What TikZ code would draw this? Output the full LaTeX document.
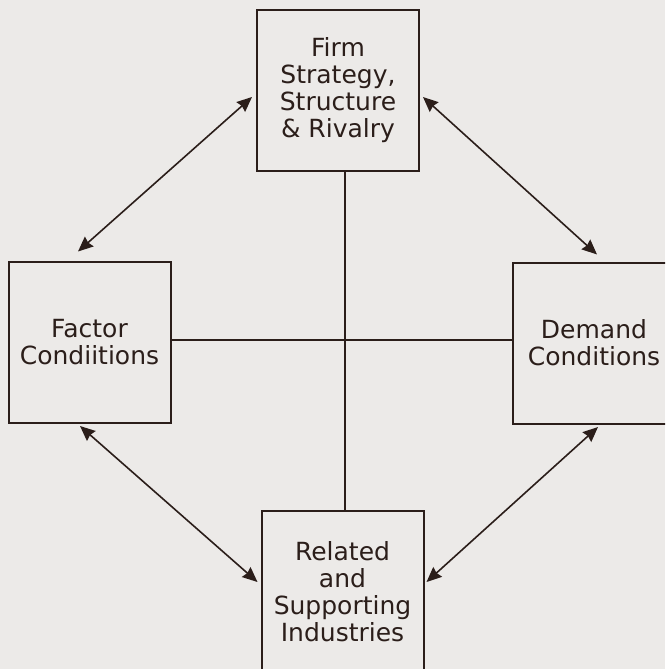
\documentclass[tikz,border=0pt]{standalone}
\usepackage{fontspec}
\setmainfont{DejaVu Sans}
\usepackage{xcolor}
\usepackage{tikz}
\usetikzlibrary{arrows.meta}

\definecolor{ink}{HTML}{2B1E1A}
\definecolor{paper}{HTML}{ECEAE8}

\begin{document}
\begin{tikzpicture}[x=1pt,y=-1pt,>={Stealth[length=15pt,width=13pt,inset=1.5pt]},line width=1.6pt,
    box/.style={draw=ink,text=ink,line width=2pt,minimum width=162pt,minimum height=161pt,inner sep=0pt,align=center,font=\fontsize{25}{27}\selectfont},
    link/.style={<->,draw=ink}]
            % \tikzset{every path/.style={draw=ink}}
            \fill[paper] (0,0) rectangle (665,669);
            \clip (0,0) rectangle (665,669);

            \node[box] (strat)   at (338,90.5)   {Firm\\Strategy,\\Structure\\\& Rivalry};
            \node[box] (factor)  at (89.5,342)   {Factor\\Condiitions};
            \node[box] (demand)  at (594,343)    {Demand\\Conditions};
            \node[box] (related) at (342.5,591.5) {Related\\and\\Supporting\\Industries};

            % the cross in the middle
            \draw[ink] ([xshift=7pt]strat.south) -- ([xshift=7pt]strat.south |- related.north);
            \draw[ink] ([yshift=2pt]factor.east) -- ([yshift=2pt]factor.east -| demand.west);

            \path ([xshift=-4pt,yshift=-6.5pt]strat.west) edge[link] ([xshift=-11.5pt,yshift=9pt]factor.north)
            ([xshift=3pt,yshift=-6.5pt]strat.east) edge[link] ([xshift=3pt,yshift=7pt]demand.north)
            ([xshift=-9.5pt,yshift=-2.5pt]factor.south) edge[link] ([xshift=-3pt,yshift=9.5pt]related.west)
            ([xshift=4pt,yshift=-2.5pt]demand.south) edge[link] ([xshift=2pt,yshift=9.5pt]related.east);
        \end{tikzpicture}
\end{document}
